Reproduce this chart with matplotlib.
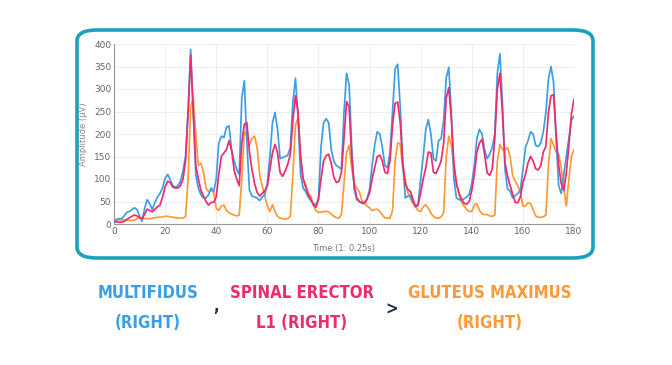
import matplotlib
matplotlib.use("Agg")
import matplotlib.pyplot as plt
from matplotlib.patches import FancyBboxPatch
import numpy as np

# time index (1 step = 0.25 s)
time = np.arange(0, 181)

multifidus = [
    5, 10, 12, 12, 18, 26, 28, 32, 36, 32,
    18, 6, 35, 54, 45, 32, 48, 60, 68, 80,
    102, 110, 98, 85, 82, 85, 95, 118, 150, 250,
    388, 250, 110, 80, 65, 58, 58, 65, 80, 72,
    100, 180, 195, 192, 215, 218, 165, 140, 122, 110,
    280, 318, 180, 75, 62, 60, 58, 52, 60, 65,
    90, 150, 225, 248, 210, 145, 148, 150, 153, 170,
    270, 324, 240, 110, 80, 72, 60, 52, 45, 43,
    55, 170, 225, 234, 225, 166, 140, 130, 126, 122,
    248, 335, 310, 173, 77, 54, 50, 48, 48, 55,
    77, 130, 175, 205, 200, 170, 130, 125, 160, 250,
    345, 355, 260, 136, 58, 62, 64, 48, 40, 45,
    100, 150, 210, 232, 200, 145, 140, 185, 190, 230,
    325, 348, 248, 100, 58, 54, 53, 56, 60, 66,
    90, 130, 190, 210, 200, 165, 145, 155, 170, 200,
    335, 378, 270, 121, 78, 73, 58, 63, 68, 75,
    120, 170, 185, 205, 200, 175, 172, 180, 205, 248,
    322, 350, 315, 190, 85, 68, 110, 151, 190, 230,
    240,
]

spinal_erector = [
    5, 5, 4, 4, 6, 10, 14, 17, 20, 18,
    14, 12, 22, 33, 30, 27, 33, 38, 42, 60,
    82, 95, 92, 82, 80, 80, 85, 100, 140, 250,
    375, 250, 130, 100, 75, 62, 50, 42, 48, 48,
    60, 110, 150, 158, 165, 185, 165, 120, 100, 85,
    180, 222, 225, 160, 120, 90, 70, 62, 68, 74,
    85, 121, 158, 177, 158, 114, 106, 118, 133, 155,
    230, 285, 250, 150, 100, 82, 65, 55, 43, 37,
    55, 100, 140, 152, 155, 135, 105, 92, 95, 115,
    190, 272, 260, 151, 85, 58, 50, 46, 46, 55,
    69, 100, 125, 150, 153, 140, 115, 112, 140, 220,
    268, 271, 225, 136, 88, 77, 72, 55, 38, 42,
    70, 100, 125, 160, 158, 115, 112, 125, 140, 180,
    280, 303, 233, 136, 88, 69, 55, 46, 44, 50,
    75, 110, 160, 180, 188, 155, 114, 108, 122, 190,
    300, 335, 245, 136, 106, 86, 66, 48, 47, 60,
    92, 110, 136, 150, 140, 123, 120, 130, 160, 173,
    248, 285, 287, 200, 130, 90, 75, 114, 175, 245,
    277,
]

gluteus_maximus = [
    10, 10, 9, 9, 9, 8, 8, 8, 8, 12,
    14, 13, 12, 12, 12, 13, 14, 15, 15, 16,
    17, 17, 16, 15, 14, 13, 13, 13, 17, 100,
    260, 280, 200, 130, 135, 115, 80, 72, 75, 70,
    35, 30, 40, 42, 30, 25, 22, 20, 18, 20,
    100, 205, 195, 175, 190, 195, 170, 110, 84, 62,
    40, 28, 43, 28, 17, 13, 12, 11, 12, 17,
    110, 220, 235, 150, 100, 88, 68, 62, 42, 30,
    26, 26, 28, 28, 27, 22, 17, 14, 13, 21,
    91, 158, 175, 125, 90, 80, 72, 52, 45, 40,
    36, 30, 32, 33, 28, 20, 14, 13, 13, 30,
    140, 180, 178, 121, 99, 69, 56, 46, 38, 30,
    28, 38, 43, 35, 24, 17, 13, 13, 16, 25,
    150, 195, 175, 125, 95, 65, 48, 40, 32, 28,
    28, 42, 45, 30, 23, 21, 21, 18, 17, 20,
    140, 177, 165, 165, 170, 150, 108, 95, 85, 70,
    40, 40, 47, 46, 32, 18, 15, 15, 16, 20,
    130, 190, 175, 160, 155, 125, 80, 40, 100, 150,
    166,
]

BLUE = "#3a9fe6"
PINK = "#f02a6c"
ORANGE = "#fb9a36"
TEAL = "#19a2b9"
NAVY = "#1f2d4a"

fig = plt.figure(figsize=(6.72, 3.65), dpi=100)
fig.patch.set_facecolor("white")

# rounded frame around the chart, kept behind the axes
frame = FancyBboxPatch((77 / 672, 1 - 258 / 365), 516 / 672, 228 / 365,
                       boxstyle="round,pad=0,rounding_size=0.03",
                       transform=fig.transFigure, facecolor="white",
                       edgecolor=TEAL, linewidth=2.6, zorder=-5)
fig.patches.append(frame)

ax = fig.add_axes((114 / 672, 1 - 224 / 365, 460 / 672, 180 / 365))
ax.set_facecolor("none")
ax.set_zorder(2)

line_kw = dict(lw=1.25, solid_joinstyle="round", solid_capstyle="round")
ax.plot(time, gluteus_maximus, color=ORANGE, zorder=3, **line_kw)
ax.plot(time, multifidus, color=BLUE, zorder=4, **line_kw)
ax.plot(time, spinal_erector, color=PINK, zorder=5, **line_kw)

ax.set_xlim(0, 180)
ax.set_ylim(0, 400)
ax.set_xticks(np.arange(0, 181, 20))
ax.set_yticks(np.arange(0, 401, 50))
ax.grid(True, color="#eeeeee", lw=0.8)
ax.set_axisbelow(True)
for side in ["top", "right"]:
    ax.spines[side].set_visible(False)
for side in ["left", "bottom"]:
    ax.spines[side].set_color("#999999")
    ax.spines[side].set_linewidth(0.8)
ax.tick_params(colors="#666666", labelsize=6.5, length=0, pad=2)
ax.set_xlabel("Time (1: 0.25s)", fontsize=6, color="#777777", labelpad=6)
ax.set_ylabel("Amplitude (µV)", fontsize=6, color="#888888", labelpad=4)

# caption under the chart
cap = dict(fontsize=12, fontweight="bold", ha="center", va="center",
           family="DejaVu Sans", fontstretch="condensed")
fig.text(148 / 672, 1 - 293 / 365, "MULTIFIDUS", color=BLUE, **cap)
fig.text(148 / 672, 1 - 323 / 365, "(RIGHT)", color=BLUE, **cap)
fig.text(216 / 672, 1 - 306 / 365, ",", color=NAVY, **cap)
fig.text(302 / 672, 1 - 293 / 365, "SPINAL ERECTOR", color=PINK, **cap)
fig.text(302 / 672, 1 - 323 / 365, "L1 (RIGHT)", color=PINK, **cap)
fig.text(392 / 672, 1 - 310 / 365, ">", color=NAVY, **cap)
fig.text(490 / 672, 1 - 293 / 365, "GLUTEUS MAXIMUS", color=ORANGE, **cap)
fig.text(490 / 672, 1 - 323 / 365, "(RIGHT)", color=ORANGE, **cap)

fig.savefig("out.png", dpi=100, facecolor="white")
